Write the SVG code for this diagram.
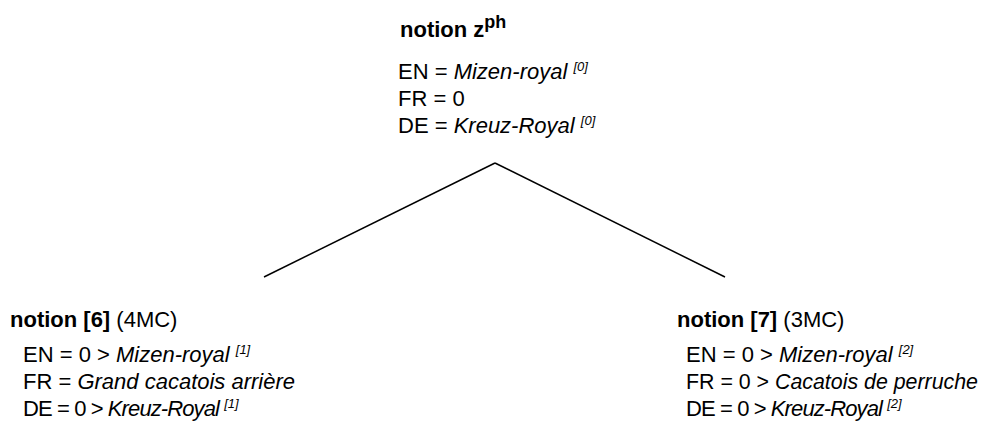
<svg xmlns="http://www.w3.org/2000/svg" width="985" height="424" viewBox="0 0 985 424">
<style>
text{font-family:"Liberation Sans",Arial,sans-serif;font-size:22px;fill:#000}
.b{font-weight:bold}
.i{font-style:italic}
.sup{font-size:13px;font-style:italic;letter-spacing:0}
.tight{letter-spacing:-0.9px}
.edge{stroke:#000;stroke-width:1.5;fill:none}
</style>
<rect width="985" height="424" fill="#fff"/>
<g id="connectors">
<line class="edge" x1="495" y1="163" x2="264" y2="277"/>
<line class="edge" x1="495" y1="163" x2="725" y2="277"/>
</g>
<g id="node-root">
<text x="400" y="37"><tspan class="b">notion z</tspan><tspan class="b" font-size="18" dy="-9">ph</tspan></text>
<text x="398" y="79">EN = <tspan class="i">Mizen-royal</tspan> <tspan class="sup" dy="-8">[0]</tspan></text>
<text x="398" y="106">FR = 0</text>
<text x="398" y="133">DE = <tspan class="i">Kreuz-Royal</tspan> <tspan class="sup" dy="-8">[0]</tspan></text>
</g>
<g id="node-6">
<text x="10" y="327"><tspan class="b">notion [6]</tspan> (4MC)</text>
<text x="23" y="362">EN = 0 &gt; <tspan class="i">Mizen-royal</tspan> <tspan class="sup" dy="-8">[1]</tspan></text>
<text x="23" y="389">FR = <tspan class="i">Grand cacatois arrière</tspan></text>
<text class="tight" x="23" y="416">DE = 0 &gt; <tspan class="i">Kreuz-Royal</tspan> <tspan class="sup" dy="-8">[1]</tspan></text>
</g>
<g id="node-7">
<text x="677" y="327"><tspan class="b">notion [7]</tspan> (3MC)</text>
<text x="686" y="362">EN = 0 &gt; <tspan class="i">Mizen-royal</tspan> <tspan class="sup" dy="-8">[2]</tspan></text>
<text x="686" y="389" textLength="292" lengthAdjust="spacingAndGlyphs">FR = 0 &gt; <tspan class="i">Cacatois de perruche</tspan></text>
<text class="tight" x="686" y="416">DE = 0 &gt; <tspan class="i">Kreuz-Royal</tspan> <tspan class="sup" dy="-8">[2]</tspan></text>
</g>
</svg>
